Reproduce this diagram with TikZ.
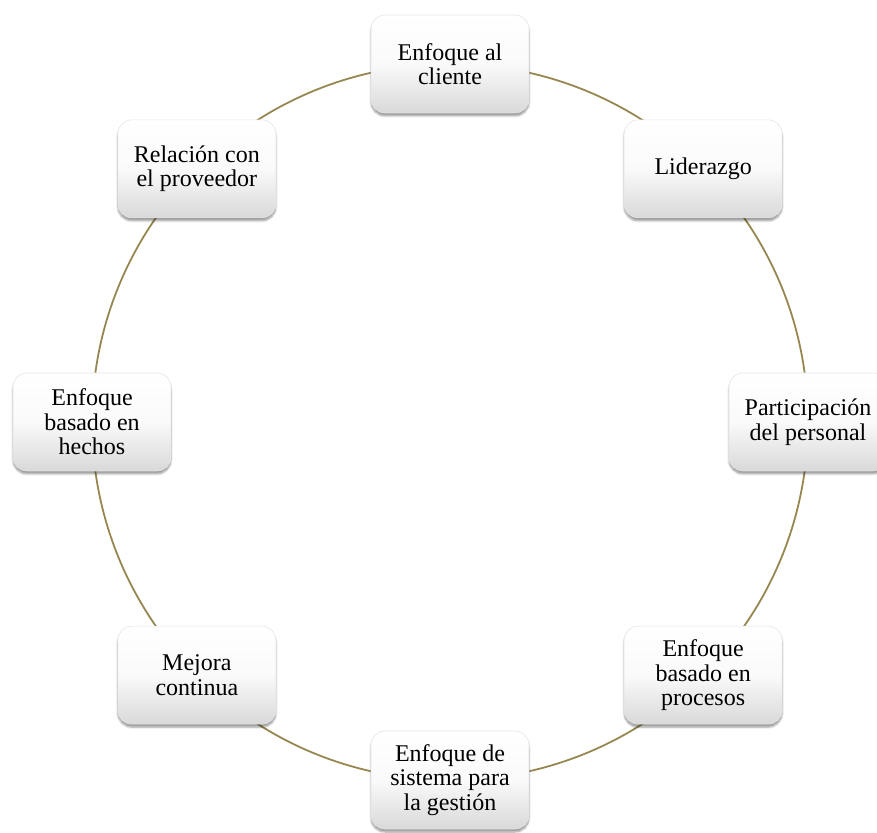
\documentclass[tikz,border=0pt]{standalone}
\usepackage{fontspec}
\setmainfont{Liberation Serif}
\usepackage{tikz}
\usetikzlibrary{shadows.blur,calc}
\definecolor{ring}{RGB}{150, 135, 80}
\tikzstyle{principle} = [rectangle, rounded corners=14pt, draw=gray!20, line width=0.6pt, top color=white, bottom color=gray!30, middle color=white!96!gray, text=black, align=center, font=\fontsize{24}{24.5}\selectfont, minimum width=158pt, minimum height=98pt, inner sep=2pt, blur shadow={shadow xshift=0pt, shadow yshift=-3pt, shadow blur steps=6, shadow opacity=40}]
\tikzstyle{ringline} = [draw=ring, line width=1.8pt]

\begin{document}
\begin{tikzpicture}[x=1pt, y=1pt]
\useasboundingbox (0,0) rectangle (877,832);

% ring =============================
\coordinate (c) at (450,410);
\path[ringline] (c) circle (358);

% principles =============================
\node[principle] (cliente)   at ($(c)+(90:358)$)  {Enfoque al\\cliente};
\node[principle] (liderazgo) at ($(c)+(45:358)$)  {Liderazgo};
\node[principle] (personal)  at ($(c)+(0:358)$)   {Participación\\del personal};
\node[principle] (procesos)  at ($(c)+(-45:358)$) {Enfoque\\basado en\\procesos};
\node[principle] (sistema)   at ($(c)+(-90:358)$) {Enfoque de\\sistema para\\la gestión};
\node[principle] (mejora)    at ($(c)+(-135:358)$) {Mejora\\continua};
\node[principle] (hechos)    at ($(c)+(180:358)$) {Enfoque\\basado en\\hechos};
\node[principle] (proveedor) at ($(c)+(135:358)$) {Relación con\\el proveedor};

\end{tikzpicture}
\end{document}
